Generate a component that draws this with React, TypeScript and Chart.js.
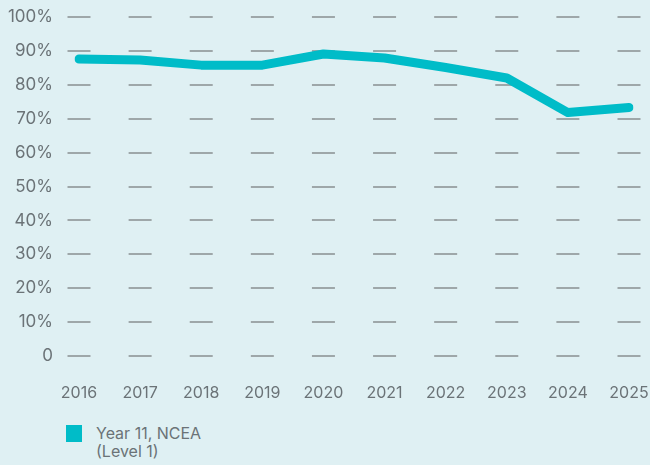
import React, { useEffect, useRef } from "react";
import { Chart, registerables } from "chart.js";

Chart.register(...registerables);

const years = ["2016", "2017", "2018", "2019", "2020", "2021", "2022", "2023", "2024", "2025"];
const ncea = [87.6, 87.3, 85.8, 85.8, 89.1, 87.9, 85.1, 82.0, 71.8, 73.3];
const seriesLabel = ["Year 11, NCEA", "(Level 1)"];

const BG = "#dff0f3";
const LINE = "#00bcc8";
const TEXT = "#6b7377";
const GRID = "#9ea7a9";
const FONT = "Inter, 'Noto Sans', sans-serif";

const dashGrid = {
  id: "dashGrid",
  beforeDatasetsDraw(chart: any) {
    const { ctx, scales } = chart;
    const x = scales.x;
    const y = scales.y;
    ctx.save();
    ctx.strokeStyle = GRID;
    ctx.lineWidth = 2;
    y.ticks.forEach((t: any) => {
      const py = Math.round(y.getPixelForValue(t.value));
      years.forEach((_, i) => {
        const px = x.getPixelForValue(i);
        ctx.beginPath();
        ctx.moveTo(px - 11.5, py);
        ctx.lineTo(px + 11.5, py);
        ctx.stroke();
      });
    });
    ctx.restore();
  },
};

export default function App() {
  const ref = useRef<HTMLCanvasElement>(null);
  useEffect(() => {
    if (!ref.current) return;
    const chart = new Chart(ref.current, {
      type: "line",
      data: {
        labels: years,
        datasets: [
          {
            label: seriesLabel.join(" "),
            data: ncea,
            borderColor: LINE,
            backgroundColor: LINE,
            borderWidth: 9,
            borderCapStyle: "round",
            borderJoinStyle: "round",
            pointRadius: 0,
            tension: 0,
          },
        ],
      },
      options: {
        animation: false,
        responsive: false,
        layout: { padding: { top: 17, right: 21, left: 0, bottom: 0 } },
        plugins: { legend: { display: false }, tooltip: { enabled: false } },
        scales: {
          x: {
            offset: false,
            grid: { display: false, drawTicks: false },
            border: { display: false },
            ticks: { color: TEXT, font: { family: FONT, size: 16 }, padding: 28, maxRotation: 0, autoSkip: false },
            afterFit: (s: any) => {
              s.height = 44;
              s.paddingLeft = 0;
              s.paddingRight = 0;
            },
          },
          y: {
            min: 0,
            max: 100,
            grid: { display: false, drawTicks: false },
            border: { display: false },
            ticks: {
              stepSize: 10,
              color: TEXT,
              font: { family: FONT, size: 17 },
              padding: 26,
              callback: (v: any) => (v === 0 ? "0" : v + "%"),
            },
            afterFit: (s: any) => {
              s.width = 79;
              s.paddingTop = 0;
              s.paddingBottom = 0;
            },
          },
        },
      },
      plugins: [dashGrid],
    });
    return () => chart.destroy();
  }, []);

  return (
    <div style={{ position: "absolute", left: 0, top: 0, width: 650, height: 465, background: BG, overflow: "hidden" }}>
      <canvas ref={ref} width={650} height={400} style={{ display: "block" }} />
      <div style={{ position: "absolute", left: 66, top: 425, width: 16, height: 17, background: LINE }} />
      <div
        style={{
          position: "absolute",
          left: 96,
          top: 424,
          fontFamily: FONT,
          fontSize: 16,
          lineHeight: "18px",
          color: TEXT,
        }}
      >
        {seriesLabel.map((l) => (
          <div key={l}>{l}</div>
        ))}
      </div>
    </div>
  );
}
